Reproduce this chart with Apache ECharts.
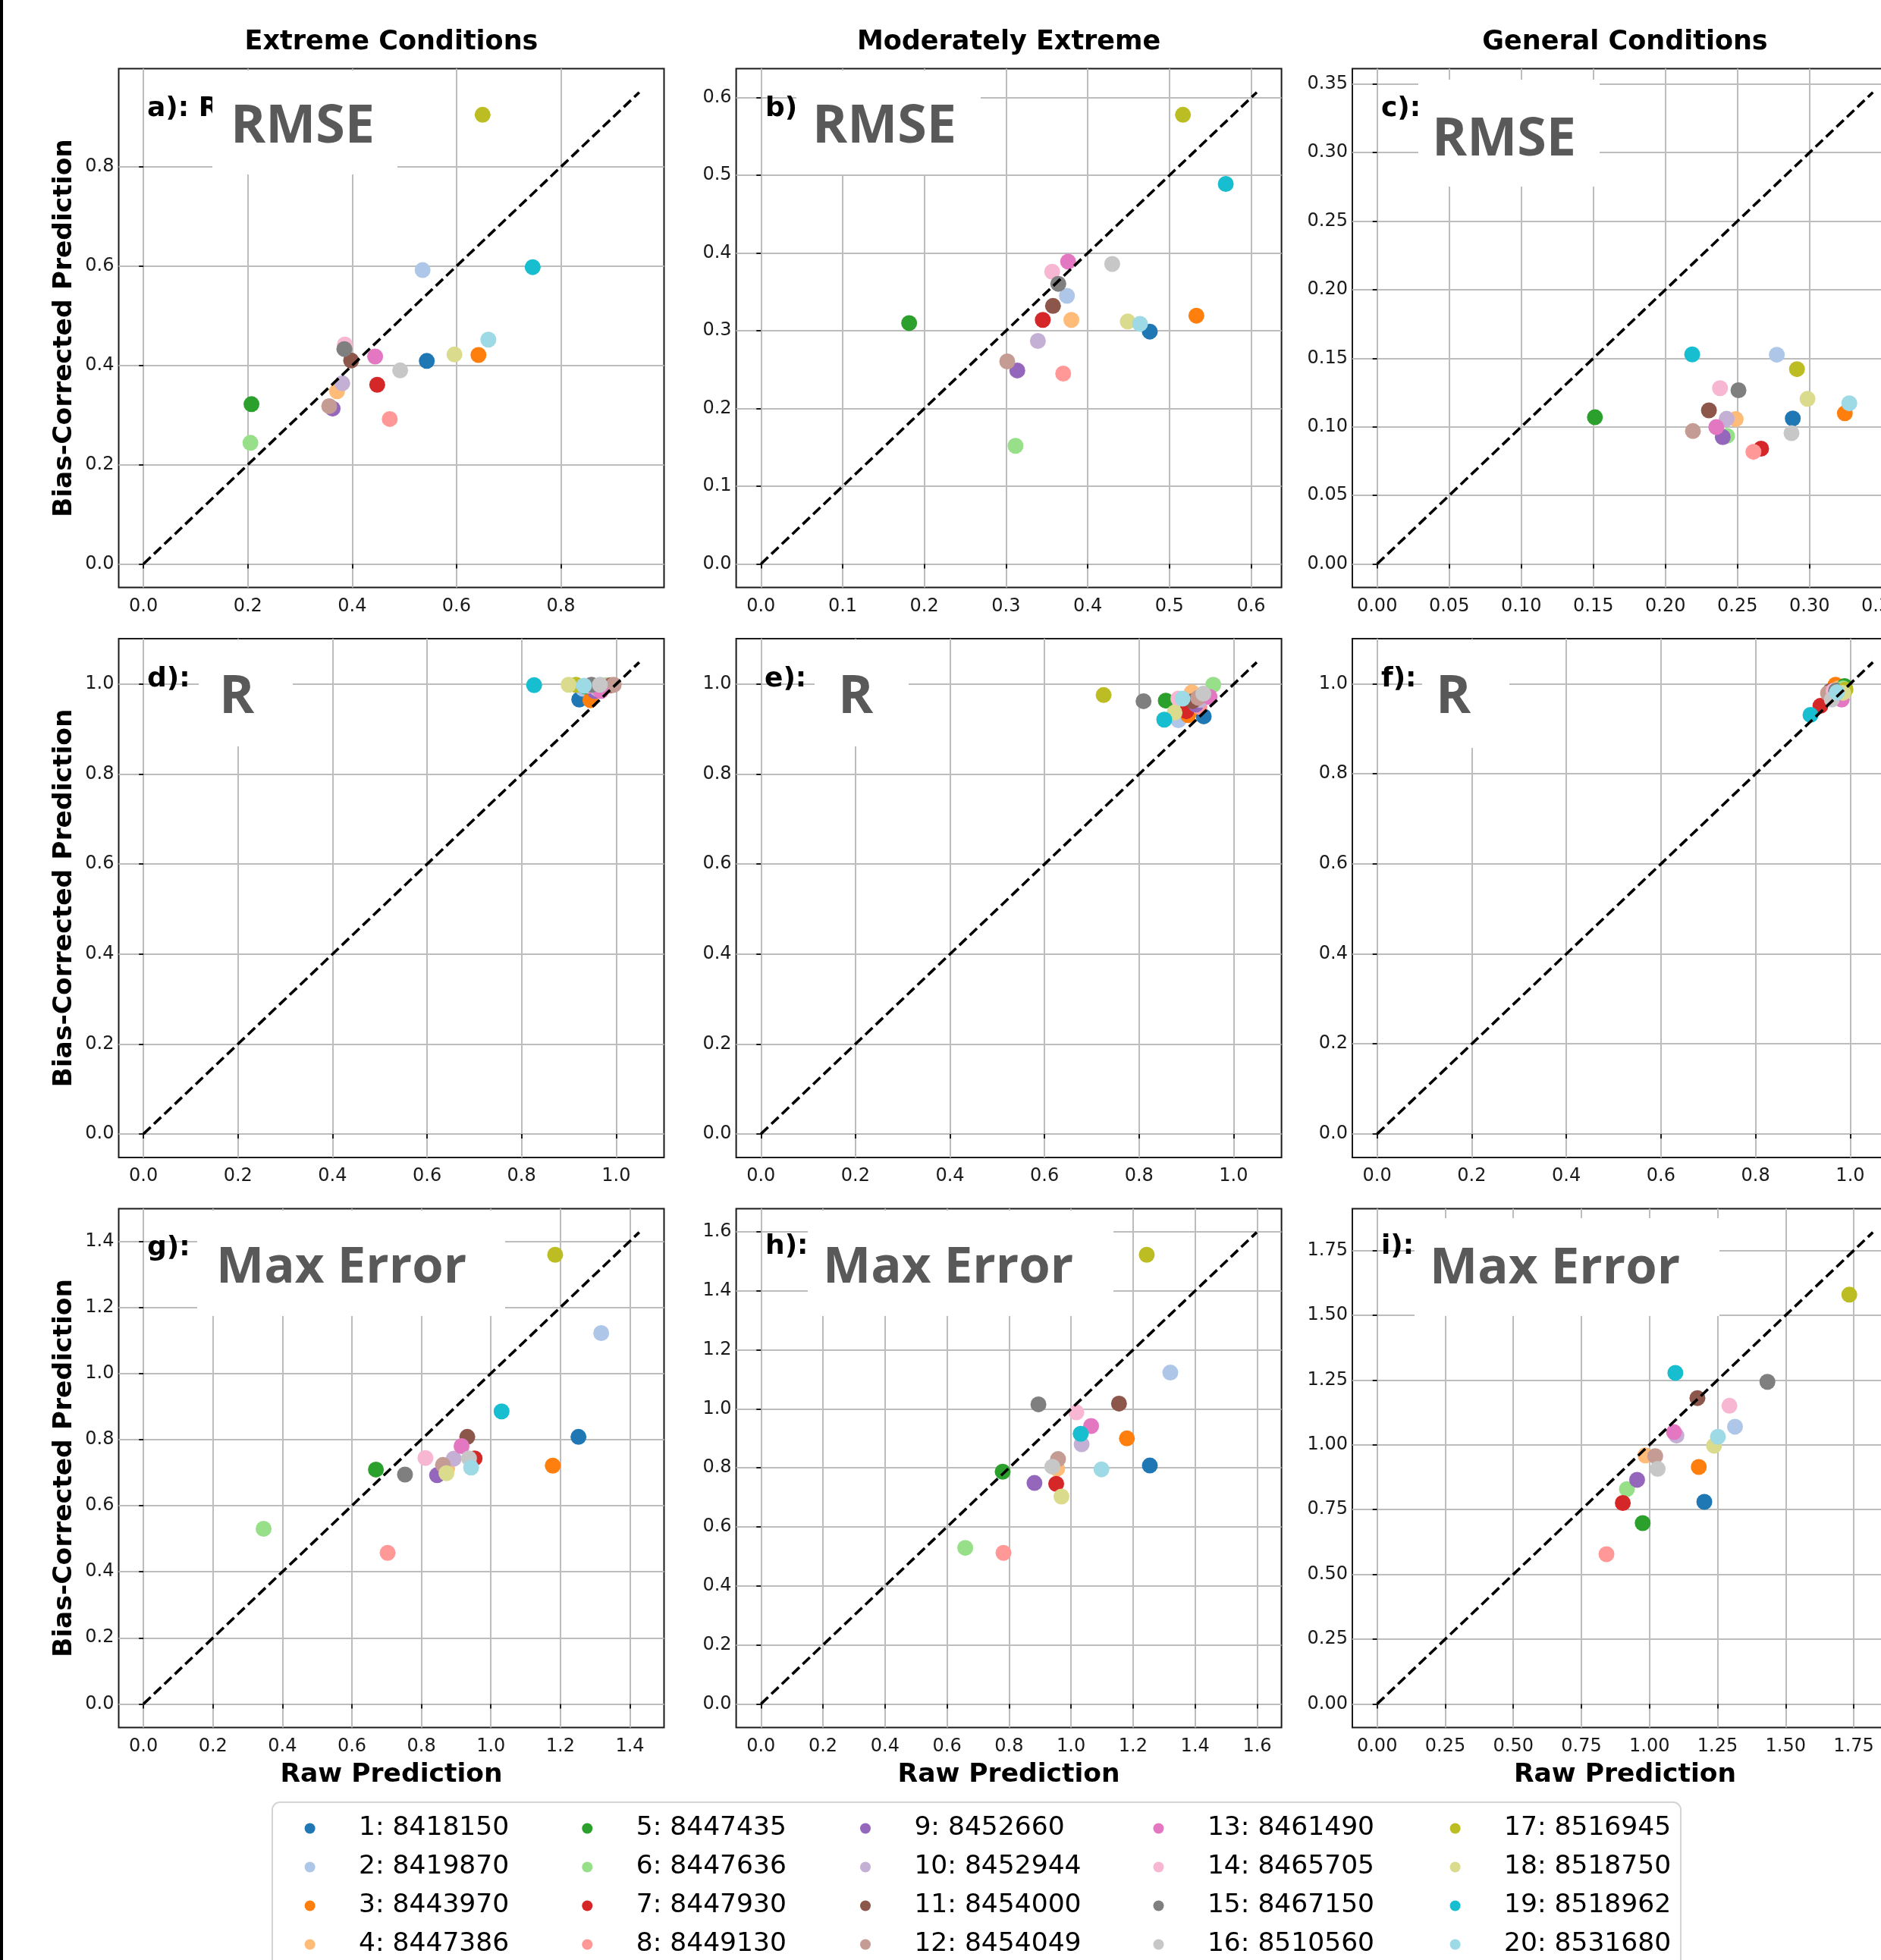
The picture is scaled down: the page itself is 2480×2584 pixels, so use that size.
<!DOCTYPE html>
<html><head><meta charset="utf-8">
<script src="https://cdn.jsdelivr.net/npm/echarts@6/dist/echarts.min.js"></script>
<style>html,body{margin:0;padding:0;background:#fff}#c{width:2480px;height:2584px}</style>
</head><body><div id="c"></div><script>
// ---------------- DATA ----------------
const stations = ['1: 8418150','2: 8419870','3: 8443970','4: 8447386','5: 8447435','6: 8447636','7: 8447930','8: 8449130','9: 8452660','10: 8452944','11: 8454000','12: 8454049','13: 8461490','14: 8465705','15: 8467150','16: 8510560','17: 8516945','18: 8518750','19: 8518962','20: 8531680'];
const columnTitles = ['Extreme Conditions','Moderately Extreme','General Conditions'];
const panelLabels = ['a): RMSE','b): RMSE','c): RMSE','d): R','e): R','f): R','g): Max Error','h): Max Error','i): Max Error'];
const metricNames = ['RMSE','RMSE','RMSE','R','R','R','Max Error','Max Error','Max Error'];
const xAxisTitle = 'Raw Prediction';
const yAxisTitle = 'Bias-Corrected Prediction';

// RMSE
const rmseExtremeRaw  = [0.543,0.535,0.642,0.371,0.207,0.205,0.448,0.472,0.3625,0.381,0.398,0.356,0.444,0.386,0.385,0.492,0.650,0.596,0.746,0.661];
const rmseExtremeCorr = [0.409,0.592,0.421,0.348,0.322,0.244,0.361,0.292,0.313,0.364,0.410,0.318,0.418,0.442,0.433,0.390,0.905,0.422,0.598,0.452];
const rmseModerateRaw  = [0.476,0.3746,0.533,0.380,0.1814,0.3116,0.345,0.370,0.3138,0.339,0.3575,0.3015,0.376,0.3565,0.364,0.430,0.5166,0.449,0.569,0.464];
const rmseModerateCorr = [0.299,0.345,0.3195,0.314,0.310,0.152,0.314,0.245,0.249,0.287,0.332,0.2606,0.389,0.376,0.3605,0.386,0.578,0.312,0.489,0.309];
const rmseGeneralRaw  = [0.2884,0.2773,0.3245,0.2488,0.1511,0.2428,0.2664,0.2611,0.2398,0.2425,0.2302,0.2191,0.2353,0.2379,0.2507,0.2875,0.2913,0.2986,0.2186,0.3276];
const rmseGeneralCorr = [0.1061,0.1526,0.1099,0.1056,0.1070,0.0934,0.0841,0.0818,0.0925,0.1059,0.1120,0.0969,0.0998,0.1282,0.1267,0.0954,0.1421,0.1204,0.1528,0.1172];
// R
const rExtremeRaw  = [0.922,0.930,0.9456,0.950,0.935,0.980,0.960,0.985,0.955,0.960,0.990,0.995,0.968,0.940,0.948,0.9657,0.915,0.8995,0.8265,0.932];
const rExtremeCorr = [0.966,0.990,0.9645,0.995,0.995,0.998,0.990,0.997,0.985,0.990,0.998,0.999,0.985,0.997,0.999,0.999,0.999,0.999,0.998,0.997];
const rModerateRaw  = [0.9368,0.8833,0.9037,0.9117,0.8566,0.957,0.900,0.9278,0.920,0.930,0.9133,0.925,0.949,0.883,0.8095,0.936,0.725,0.875,0.8533,0.892];
const rModerateCorr = [0.9287,0.920,0.9315,0.982,0.9636,0.999,0.940,0.9494,0.955,0.965,0.9624,0.970,0.972,0.968,0.9624,0.979,0.976,0.937,0.9214,0.968];
const rGeneralRaw  = [0.975,0.978,0.969,0.975,0.988,0.985,0.937,0.965,0.970,0.975,0.958,0.953,0.982,0.965,0.970,0.961,0.990,0.985,0.916,0.972];
const rGeneralCorr = [0.975,0.980,0.998,0.990,0.995,0.990,0.951,0.970,0.975,0.970,0.984,0.979,0.965,0.985,0.985,0.965,0.987,0.980,0.931,0.981];
// Max Error
const maxExtremeRaw  = [1.252,1.3175,1.178,0.874,0.669,0.3457,0.953,0.7026,0.845,0.893,0.932,0.862,0.9155,0.8115,0.7527,0.937,1.185,0.872,1.0307,0.943];
const maxExtremeCorr = [0.808,1.122,0.721,0.712,0.709,0.530,0.743,0.457,0.692,0.742,0.808,0.723,0.780,0.744,0.694,0.743,1.359,0.698,0.885,0.715];
const maxModerateRaw  = [1.254,1.320,1.180,0.955,0.7795,0.6587,0.952,0.782,0.882,1.034,1.1545,0.958,1.0646,1.017,0.8947,0.9396,1.244,0.969,1.031,1.098];
const maxModerateCorr = [0.808,1.123,0.900,0.797,0.787,0.529,0.746,0.512,0.749,0.880,1.018,0.830,0.942,0.988,1.0155,0.804,1.5225,0.703,0.9156,0.795];
const maxGeneralRaw  = [1.2014,1.314,1.181,0.985,0.975,0.917,0.902,0.842,0.9545,1.099,1.176,1.021,1.090,1.2935,1.433,1.030,1.7336,1.237,1.095,1.2513];
const maxGeneralCorr = [0.780,1.070,0.9145,0.9593,0.698,0.829,0.7756,0.578,0.865,1.0356,1.1805,0.9564,1.049,1.1506,1.243,0.907,1.5795,0.9967,1.2777,1.031];

// tick values
const ticksA = [0.0,0.2,0.4,0.6,0.8];
const ticksB = [0.0,0.1,0.2,0.3,0.4,0.5,0.6];
const ticksC = [0.00,0.05,0.10,0.15,0.20,0.25,0.30,0.35];
const ticksR = [0.0,0.2,0.4,0.6,0.8,1.0];
const ticksG = [0.0,0.2,0.4,0.6,0.8,1.0,1.2,1.4];
const ticksH = [0.0,0.2,0.4,0.6,0.8,1.0,1.2,1.4,1.6];
const ticksI = [0.00,0.25,0.50,0.75,1.00,1.25,1.50,1.75];

// ---------------- STYLE / LAYOUT ----------------
const colors = ['#1f77b4','#aec7e8','#ff7f0e','#ffbb78','#2ca02c','#98df8a','#d62728','#ff9896','#9467bd','#c5b0d5','#8c564b','#c49c94','#e377c2','#f7b6d2','#7f7f7f','#c7c7c7','#bcbd22','#dbdb8d','#17becf','#9edae5'];
const colLeft = [156.5, 970.6, 1783];
const rowTop = [90.6, 842, 1593.5];
const gridW = 719, gridH = 684;

const panels = [
  {raw: rmseExtremeRaw,  corr: rmseExtremeCorr,  ticks: ticksA, dec: 1},
  {raw: rmseModerateRaw, corr: rmseModerateCorr, ticks: ticksB, dec: 1},
  {raw: rmseGeneralRaw,  corr: rmseGeneralCorr,  ticks: ticksC, dec: 2},
  {raw: rExtremeRaw,  corr: rExtremeCorr,  ticks: ticksR, dec: 1},
  {raw: rModerateRaw, corr: rModerateCorr, ticks: ticksR, dec: 1},
  {raw: rGeneralRaw,  corr: rGeneralCorr,  ticks: ticksR, dec: 1},
  {raw: maxExtremeRaw,  corr: maxExtremeCorr,  ticks: ticksG, dec: 1},
  {raw: maxModerateRaw, corr: maxModerateCorr, ticks: ticksH, dec: 1},
  {raw: maxGeneralRaw,  corr: maxGeneralCorr,  ticks: ticksI, dec: 2}
];
// overlay: label text left x, label centre y, white box [x1,y1,x2,y2], metric text left x, metric centre y, metric font size
const overlays = [
  {lx: 194, ly: 144, box: [280, 93, 524, 230], mx: 304, my: 168, fs: 70},
  {lx: 1009, ly: 144, box: [1050, 93, 1293, 230], mx: 1071, my: 168, fs: 70},
  {lx: 1821, ly: 144, box: [1870, 105, 2109, 246], mx: 1888, my: 185, fs: 70},
  {lx: 194, ly: 896, box: [262, 844, 386, 984], mx: 289, my: 920, fs: 70},
  {lx: 1008, ly: 896, box: [1074, 844, 1198, 984], mx: 1105, my: 920, fs: 70},
  {lx: 1821, ly: 896, box: [1875, 844, 1990, 986], mx: 1893, my: 920, fs: 70},
  {lx: 194, ly: 1646, box: [260, 1596, 666, 1735], mx: 285, my: 1672, fs: 67},
  {lx: 1009, ly: 1644, box: [1065, 1596, 1468, 1735], mx: 1085, my: 1672, fs: 67},
  {lx: 1821, ly: 1644, box: [1865, 1606, 2267, 1735], mx: 1885, my: 1673, fs: 67}
];

const FONT = 'DejaVu Sans';
const grids = [], xAxes = [], yAxes = [], series = [], elements = [];

panels.forEach((p, i) => {
  const col = i % 3, row = Math.floor(i / 3);
  const L = Math.max(...p.raw, ...p.corr) * 1.05;
  const lo = -0.05 * L, hi = 1.05 * L;
  grids.push({left: colLeft[col], top: rowTop[row], width: gridW, height: gridH,
    show: true, borderColor: '#1a1a1a', borderWidth: 2, backgroundColor: 'transparent',
    containLabel: false, outerBoundsMode: 'none'});
  const fmt = v => Number(v).toFixed(p.dec);
  const axisCommon = {
    type: 'value', gridIndex: i, min: lo, max: hi, scale: true,
    axisLine: {show: false},
    axisTick: {show: true, length: 6, lineStyle: {color: '#1a1a1a', width: 2}, customValues: p.ticks},
    splitLine: {show: true, lineStyle: {color: '#bdbdbd', width: 2}},
    nameTextStyle: {fontSize: 34.5, fontWeight: 'bold', fontFamily: FONT, color: '#000'}
  };
  const lbl = m => ({show: true, customValues: p.ticks, formatter: fmt, margin: m, fontSize: 24, fontFamily: FONT, color: '#1a1a1a'});
  xAxes.push(Object.assign({}, axisCommon, {
    axisLabel: lbl(13),
    name: row === 2 ? xAxisTitle : '', nameLocation: 'middle', nameGap: 45
  }));
  yAxes.push(Object.assign({}, axisCommon, {
    axisLabel: lbl(6),
    name: col === 0 ? yAxisTitle : '', nameLocation: 'middle', nameGap: 54
  }));
  stations.forEach((s, k) => {
    series.push({type: 'scatter', name: s, xAxisIndex: i, yAxisIndex: i,
      data: [[p.raw[k], p.corr[k]]], symbol: 'circle', symbolSize: 21,
      itemStyle: {color: colors[k], opacity: 1}, z: 3, silent: true,
      emphasis: {disabled: true}, animation: false});
  });
  series.push({type: 'line', name: '', xAxisIndex: i, yAxisIndex: i,
    data: [[0, 0], [L, L]], symbol: 'none', silent: true, z: 4,
    lineStyle: {color: '#000', width: 3.6, type: [13, 6]}, animation: false});

  const o = overlays[i];
  elements.push({type: 'text', x: o.lx, y: o.ly, z: 50,
    style: {text: panelLabels[i], fontSize: 36, fontWeight: 'bold', fontFamily: FONT, fill: '#000', align: 'left', verticalAlign: 'middle'}});
  elements.push({type: 'rect', z: 51, shape: {x: o.box[0], y: o.box[1], width: o.box[2] - o.box[0], height: o.box[3] - o.box[1]},
    style: {fill: '#ffffff', stroke: null}});
  elements.push({type: 'text', x: o.mx, y: o.my, z: 52,
    style: {text: metricNames[i], fontSize: o.fs, fontWeight: 'bold', fontFamily: 'Open Sans', fill: '#595959', align: 'left', verticalAlign: 'middle'}});
});

columnTitles.forEach((t, c) => {
  elements.push({type: 'text', x: colLeft[c] + gridW / 2, y: 56, z: 50,
    style: {text: t, fontSize: 35, fontWeight: 'bold', fontFamily: FONT, fill: '#000', align: 'center', verticalAlign: 'middle'}});
});
// left frame line and legend frame
elements.push({type: 'rect', z: 60, shape: {x: 0, y: 0, width: 4, height: 2584}, style: {fill: '#000'}});
elements.push({type: 'rect', z: 0, shape: {x: 359, y: 2376, width: 1857, height: 300, r: 10}, style: {fill: '#fff', stroke: '#d4d4d4', lineWidth: 2}});

const legendCenters = [408.6, 774.3, 1141, 1527.5, 1918.6];
const legends = legendCenters.map((cx, c) => ({
  show: true, type: 'plain', orient: 'vertical', left: cx - 7, top: 2390.5, padding: 0,
  data: stations.slice(c * 4, c * 4 + 4), icon: 'circle', itemWidth: 14, itemHeight: 14,
  itemGap: 11, selectedMode: false, z: 5,
  textStyle: {fontSize: 34.5, fontFamily: FONT, color: '#000', lineHeight: 40, padding: [0, 0, 0, 52.4]}
}));

const chart = echarts.init(document.getElementById('c'), null, {renderer: 'canvas'});
chart.setOption({
  animation: false, backgroundColor: '#fff',
  grid: grids, xAxis: xAxes, yAxis: yAxes, series: series,
  legend: legends, graphic: {elements: elements}
});
</script></body></html>
